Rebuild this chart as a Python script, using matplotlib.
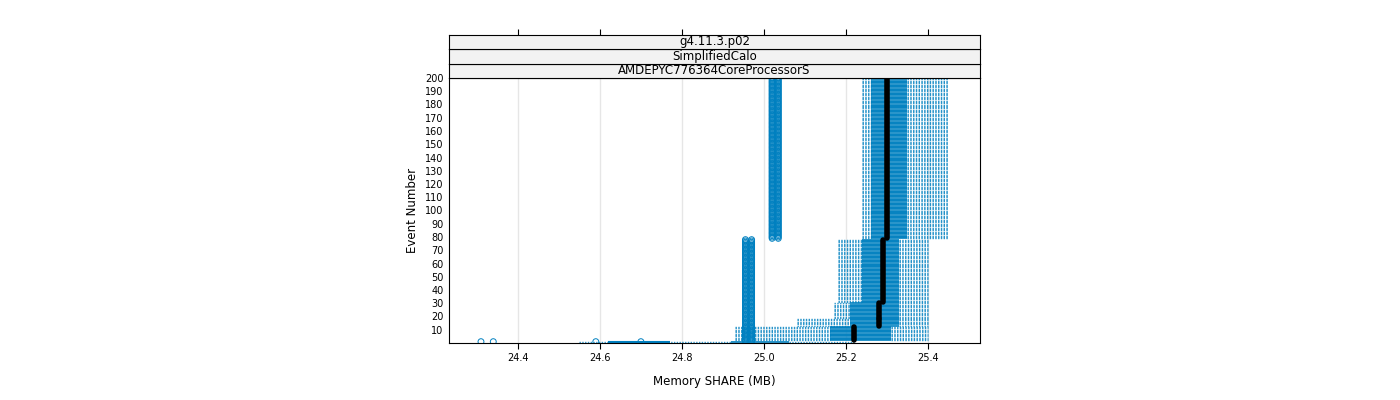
import matplotlib
matplotlib.use("Agg")
import matplotlib.pyplot as plt
from matplotlib.patches import Rectangle

# Segments of events sharing similar box statistics
seg_start = [1, 2, 13, 19, 31, 79]
seg_end   = [1, 12, 18, 30, 78, 200]
seg_wlo   = [24.55, 24.93, 25.08, 25.17, 25.18, 25.24]
seg_q1    = [24.92, 25.16, 25.21, 25.21, 25.24, 25.26]
seg_med   = [24.99, 25.22, 25.28, 25.28, 25.29, 25.30]
seg_q3    = [25.06, 25.31, 25.33, 25.33, 25.33, 25.35]
seg_whi   = [25.22, 25.40, 25.40, 25.40, 25.40, 25.45]
# outliers: (first event, last event, value)
out_start = [1, 1, 1, 1, 1, 1, 79, 79]
out_end   = [1, 1, 1, 1, 78, 78, 200, 200]
out_val   = [24.31, 24.34, 24.59, 24.70, 24.955, 24.97, 25.02, 25.035]
# bottom low-memory row (event 0.5-ish region)
low_q1, low_med, low_q3 = 24.62, 24.70, 24.77

xticks = [24.4, 24.6, 24.8, 25.0, 25.2, 25.4]
yticks = list(range(10, 201, 10))
blue = "#0080c0"

fig = plt.figure(figsize=(14, 4), dpi=100)
ax = fig.add_axes([449/1400, 1-343/400, 531/1400, 265/400])
ax.set_xlim(24.232, 25.527)
ax.set_ylim(0, 200)
for t in xticks:
    ax.axvline(t, color="#e6e6e6", lw=1, zorder=0)

for s, e, wl, q1, md, q3, wh in zip(seg_start, seg_end, seg_wlo, seg_q1, seg_med, seg_q3, seg_whi):
    for ev in range(s, e + 1):
        y = ev - 0.4 if s == 1 else ev
        ax.hlines(y, wl, q1, colors=blue, linestyles=(0, (1, 1)), lw=1.0, alpha=0.8)
        ax.hlines(y, q3, wh, colors=blue, linestyles=(0, (1, 1)), lw=1.0, alpha=0.8)
        ax.hlines(y, q1, q3, colors=blue, lw=1.2)
    ys = [ev - 0.4 if s == 1 else ev for ev in range(s, e + 1)]
    ax.plot([md] * len(ys), ys, color="black", lw=4, solid_capstyle="round", zorder=5)

ax.hlines(0.4, low_q1, low_q3, colors=blue, lw=1.5)
for s, e, v in zip(out_start, out_end, out_val):
    ys = list(range(s, e + 1))
    ax.scatter([v] * len(ys), ys, s=18, facecolors="none", edgecolors=blue, lw=0.7, zorder=4)

ax.set_xticks(xticks)
ax.set_xticklabels([f"{t:.1f}" for t in xticks], fontsize=7)
ax.set_yticks(yticks)
ax.set_yticklabels([str(t) for t in yticks], fontsize=7)
ax.tick_params(axis="x", top=True, direction="out", length=4)
ax.tick_params(axis="y", length=0, pad=4)
ax.set_xlabel("Memory SHARE (MB)", fontsize=8.5, labelpad=8)
ax.set_ylabel("Event Number", fontsize=8.5)
for sp in ax.spines.values():
    sp.set_linewidth(0.8)

strips = ["AMDEPYC776364CoreProcessorS", "SimplifiedCalo", "g4.11.3.p02"]
for i, txt in enumerate(strips):
    y0 = 78 - 14.5 * (i + 1)
    sax = fig.add_axes([449/1400, 1-(y0+14.5)/400, 531/1400, 14.5/400])
    sax.set_facecolor("#f2f2f2")
    sax.set_xticks([]); sax.set_yticks([])
    for sp in sax.spines.values():
        sp.set_linewidth(0.8)
    sax.text(0.5, 0.5, txt, ha="center", va="center", fontsize=8.5, transform=sax.transAxes)
    if i == 2:
        sax.set_xlim(ax.get_xlim())
        sax.set_xticks(xticks)
        sax.set_xticklabels([])
        sax.tick_params(axis="x", top=True, bottom=False, direction="out", length=4)

fig.savefig("out.png", dpi=100)
